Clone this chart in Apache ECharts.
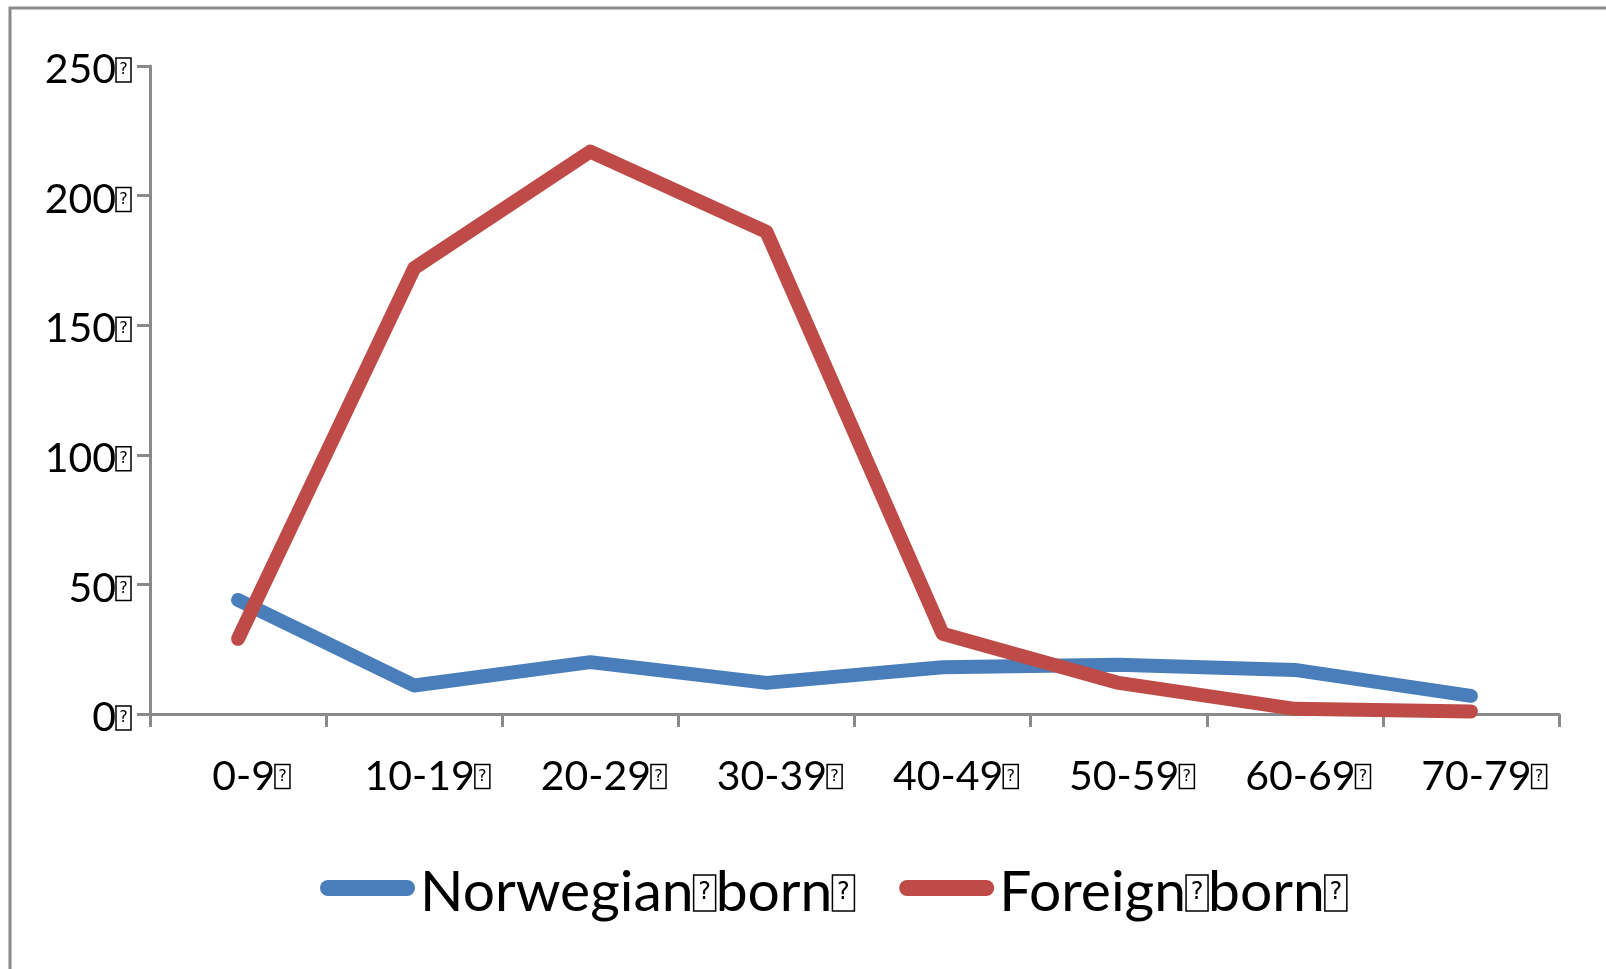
<!DOCTYPE html>
<html>
<head>
<meta charset="utf-8">
<title>Norwegian born vs Foreign born by age group</title>
<script src="https://cdn.jsdelivr.net/npm/echarts@6/dist/echarts.min.js"></script>
<style>
  html, body { margin: 0; padding: 0; background: #ffffff; }
  #chart { width: 1606px; height: 969px; }
</style>
</head>
<body>
<div id="chart"></div>
<script>
// Age groups on the category axis
const categories = ['0-9', '10-19', '20-29', '30-39', '40-49', '50-59', '60-69', '70-79'];

// Counts per age group
const norwegianBorn = [44, 11, 20, 12, 18, 19, 17, 7];
const foreignBorn = [29, 172, 217, 186, 31, 12, 2, 1];

// Value axis range and step
const yMin = 0;
const yMax = 250;
const yStep = 50;

const seriesNames = ['Norwegian born', 'Foreign born'];
const seriesColors = ['#4a7ebb', '#be4b48'];

const FONT = 'Lato';
const AXIS_GRAY = '#8a8a8a';

// Each label carries a trailing unrenderable character, drawn as a boxed "?"
const tofuAxis = {
  fontFamily: 'DejaVu Sans', fontSize: 16, color: '#000', lineHeight: 17,
  width: 13, align: 'center',
  borderColor: '#000', borderWidth: 1.5, padding: [4, 1, 4, 1]
};
const tofuLegend = {
  fontFamily: 'DejaVu Sans', fontSize: 24, color: '#000', lineHeight: 26,
  width: 18, align: 'center',
  borderColor: '#000', borderWidth: 1.5, padding: [6, 2, 6, 2]
};

const chart = echarts.init(document.getElementById('chart'), null, { renderer: 'canvas' });

chart.setOption({
  backgroundColor: '#ffffff',
  animation: false,
  graphic: [{
    type: 'rect',
    shape: { x: 10, y: 8, width: 2000, height: 2000 },
    style: { fill: 'none', stroke: AXIS_GRAY, lineWidth: 3 },
    silent: true
  }],
  grid: { left: 150, right: 47, top: 66, bottom: 255, containLabel: false },
  legend: {
    left: 315,
    top: 846,
    itemWidth: 95,
    itemHeight: 16,
    itemGap: 44,
    itemTextGap: 8,
    itemStyle: { borderWidth: 0 },
    lineStyle: { width: 0 },
    data: seriesNames.map((n, i) => ({
      name: n,
      icon: 'path://M8,0 L87,0 A8,8 0 0 1 87,16 L8,16 A8,8 0 0 1 8,0 Z',
      itemStyle: { color: seriesColors[i] }
    })),
    formatter: (name) => name.replace(' ', '{q|?}') + '{q|?}',
    textStyle: {
      fontFamily: FONT, fontSize: 57, color: '#000', lineHeight: 64,
      padding: [10, 0, 0, 0],
      rich: { q: tofuLegend }
    }
  },
  xAxis: {
    type: 'category',
    data: categories,
    boundaryGap: true,
    axisLine: { show: true, lineStyle: { color: AXIS_GRAY, width: 3 } },
    axisTick: { show: true, interval: 0, length: 13, lineStyle: { color: AXIS_GRAY, width: 3 } },
    axisLabel: {
      interval: 0,
      margin: 42,
      fontFamily: FONT, fontSize: 41, color: '#000',
      padding: [0, 0, 0, 26],
      formatter: (v) => v + '{q|?}',
      rich: { q: tofuAxis }
    },
    splitLine: { show: false }
  },
  yAxis: {
    type: 'value',
    min: yMin,
    max: yMax,
    interval: yStep,
    axisLine: { show: true, lineStyle: { color: AXIS_GRAY, width: 3 } },
    axisTick: { show: true, length: 13, lineStyle: { color: AXIS_GRAY, width: 3 } },
    axisLabel: {
      margin: 19,
      fontFamily: FONT, fontSize: 41, color: '#000',
      padding: [8, 0, 0, 0],
      formatter: (v) => v + '{q|?}',
      rich: { q: tofuAxis }
    },
    splitLine: { show: false }
  },
  series: [
    {
      name: seriesNames[0],
      type: 'line',
      data: norwegianBorn,
      showSymbol: false,
      symbol: 'none',
      color: seriesColors[0],
      lineStyle: { color: seriesColors[0], width: 14, cap: 'round', join: 'round' },
      z: 2
    },
    {
      name: seriesNames[1],
      type: 'line',
      data: foreignBorn,
      showSymbol: false,
      symbol: 'none',
      color: seriesColors[1],
      lineStyle: { color: seriesColors[1], width: 14, cap: 'round', join: 'round' },
      z: 3
    }
  ]
});
</script>
</body>
</html>
